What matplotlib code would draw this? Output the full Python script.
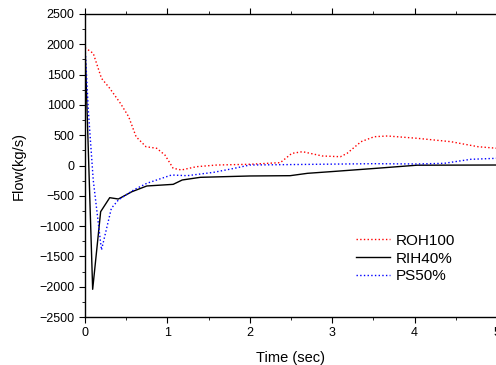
import numpy as np
import matplotlib.pyplot as plt
from matplotlib.ticker import MultipleLocator

plt.rcParams['font.family'] = ['Liberation Sans', 'DejaVu Sans']

# ROH100 (red, dotted)
t_roh = [0.0, 0.1, 0.2, 0.3, 0.43, 0.53, 0.62, 0.74, 0.87, 0.97, 1.07, 1.17, 1.35, 1.6, 2.0,
         2.37, 2.51, 2.64, 2.88, 3.1, 3.18, 3.35, 3.51, 3.67, 4.03, 4.44, 4.77, 5.0]
f_roh = [1944, 1851, 1439, 1274, 1026, 805, 475, 310, 284, 173, -46, -74, -20, 8, 20,
         47, 200, 228, 157, 145, 200, 393, 475, 487, 449, 393, 310, 284]

# RIH40% (black, solid)
t_rih = [0.0, 0.093, 0.19, 0.3, 0.405, 0.57, 0.75, 1.07, 1.18, 1.4, 2.0, 2.49, 2.7, 3.0, 3.5, 4.03, 5.0]
f_rih = [2000, -2043, -762, -531, -553, -432, -338, -311, -239, -195, -173, -168, -129, -100, -50, 5, 8]

# PS50% (blue, dotted)
t_ps = [0.0, 0.04, 0.1, 0.2, 0.32, 0.405, 0.59, 0.75, 1.05, 1.24, 1.56, 1.8, 2.0,
        3.5, 4.03, 4.36, 4.68, 5.0]
f_ps = [1988, 916, -240, -1394, -706, -569, -404, -294, -157, -168, -113, -50, 8,
        30, 25, 36, 102, 119]

fig = plt.figure(figsize=(4.96, 3.65), dpi=100)
ax = fig.add_axes([85/496, 48/365, 412/496, 303/365])

ax.plot(t_roh, f_roh, color='red', ls=':', lw=1.0, label='ROH100')
ax.plot(t_rih, f_rih, color='black', ls='-', lw=1.0, label='RIH40%')
ax.plot(t_ps, f_ps, color='blue', ls=':', lw=1.0, label='PS50%')

ax.set_xlim(0, 5)
ax.set_ylim(-2500, 2500)
ax.xaxis.set_major_locator(MultipleLocator(1))
ax.xaxis.set_minor_locator(MultipleLocator(0.5))
ax.yaxis.set_major_locator(MultipleLocator(500))
ax.yaxis.set_minor_locator(MultipleLocator(250))
ax.tick_params(which='both', direction='out', top=True, right=False, labelsize=9)
ax.tick_params(which='major', length=4)
ax.tick_params(which='minor', length=2.5)
for s in ax.spines.values():
    s.set_linewidth(1.0)

ax.set_xlabel('Time (sec)', fontsize=10.5, labelpad=8)
ax.set_ylabel('Flow(kg/s)', fontsize=10.5, labelpad=10)

ax.legend(frameon=False, fontsize=11, loc='upper left', bbox_to_anchor=(0.625, 0.32),
          handlelength=2.2, handletextpad=0.4, labelspacing=0.25)

fig.savefig('out.png', dpi=100)
